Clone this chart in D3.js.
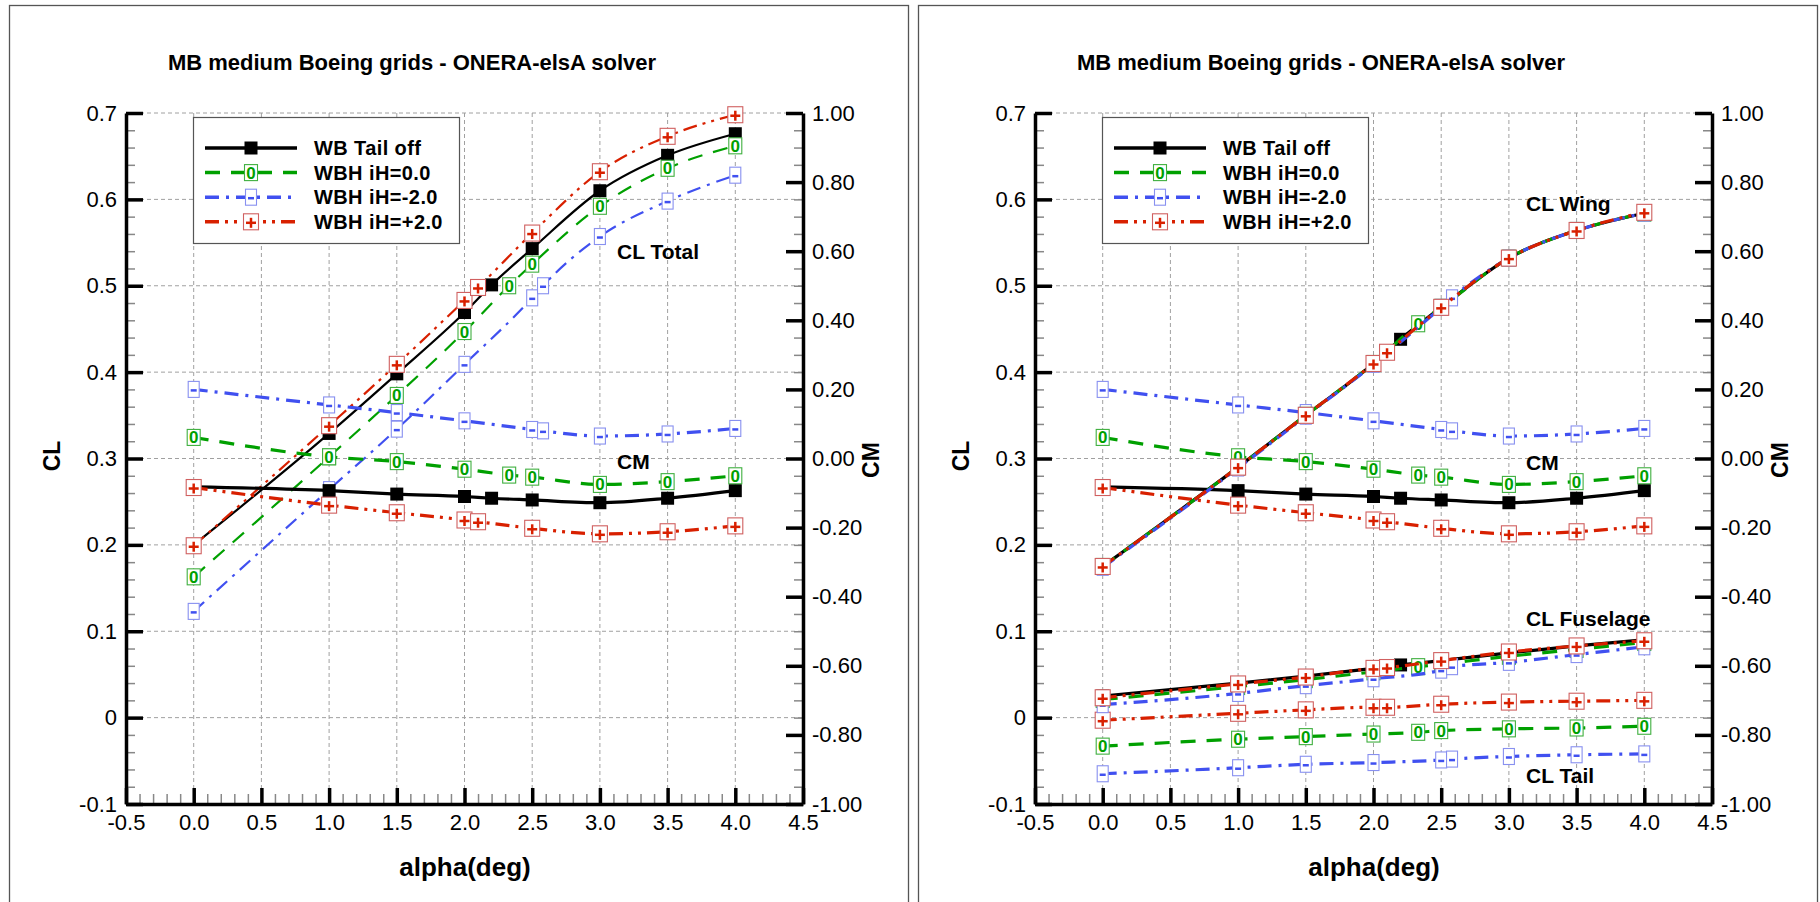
<!DOCTYPE html>
<html><head><meta charset="utf-8">
<script src="https://cdn.jsdelivr.net/npm/d3@7"></script>
<style>
body{margin:0;background:#fff;}
svg{display:block;font-family:"Liberation Sans",Arial,Helvetica,sans-serif;}
</style></head><body>
<svg id="chart" width="1820" height="902"></svg>
<script>
// ---------------- DATA ----------------
const TITLE = "MB medium Boeing grids - ONERA-elsA solver";
const X_LABEL = "alpha(deg)";
const Y_LABEL_LEFT = "CL";
const Y_LABEL_RIGHT = "CM";

const X_TICKS = [-0.5, 0.0, 0.5, 1.0, 1.5, 2.0, 2.5, 3.0, 3.5, 4.0, 4.5];
const X_TICK_LABELS = ["-0.5","0.0","0.5","1.0","1.5","2.0","2.5","3.0","3.5","4.0","4.5"];
const CL_TICKS = [-0.1, 0, 0.1, 0.2, 0.3, 0.4, 0.5, 0.6, 0.7];
const CL_TICK_LABELS = ["-0.1","0","0.1","0.2","0.3","0.4","0.5","0.6","0.7"];
const CM_TICKS = [-1, -0.8, -0.6, -0.4, -0.2, 0, 0.2, 0.4, 0.6, 0.8, 1];
const CM_TICK_LABELS = ["-1.00","-0.80","-0.60","-0.40","-0.20","0.00","0.20","0.40","0.60","0.80","1.00"];

const SERIES = ["WB Tail off", "WBH iH=0.0", "WBH iH=-2.0", "WBH iH=+2.0"];

const ALPHA_TAILOFF = [0.0, 1.0, 1.5, 2.0, 2.2, 2.5, 3.0, 3.5, 4.0];
const ALPHA_IH0     = [0.0, 1.0, 1.5, 2.0, 2.33, 2.5, 3.0, 3.5, 4.0];
const ALPHA_IHM2    = [0.0, 1.0, 1.5, 2.0, 2.5, 2.58, 3.0, 3.5, 4.0];
const ALPHA_IHP2    = [0.0, 1.0, 1.5, 2.0, 2.1, 2.5, 3.0, 3.5, 4.0];

// Left chart: total lift
const CL_TOTAL_TAILOFF = [0.200, 0.329, 0.398, 0.469, 0.501, 0.543, 0.610, 0.651, 0.676];
const CL_TOTAL_IH0     = [0.163, 0.302, 0.373, 0.447, 0.500, 0.525, 0.592, 0.636, 0.662];
const CL_TOTAL_IHM2    = [0.123, 0.264, 0.334, 0.409, 0.486, 0.500, 0.557, 0.598, 0.628];
const CL_TOTAL_IHP2    = [0.199, 0.338, 0.409, 0.483, 0.498, 0.561, 0.632, 0.673, 0.698];

// Pitching moment (both charts)
const CM_TAILOFF = [-0.082, -0.093, -0.103, -0.110, -0.115, -0.120, -0.128, -0.115, -0.093];
const CM_IH0     = [ 0.061,  0.005, -0.009, -0.031, -0.048, -0.054, -0.075, -0.067, -0.050];
const CM_IHM2    = [ 0.200,  0.155,  0.133,  0.109,  0.084,  0.080,  0.065,  0.071,  0.087];
const CM_IHP2    = [-0.084, -0.135, -0.157, -0.178, -0.183, -0.202, -0.218, -0.212, -0.195];

// Right chart: component lift
const CL_WING_TAILOFF = [0.175, 0.290, 0.350, 0.410, 0.438, 0.475, 0.532, 0.564, 0.584];
const CL_WING_IH0     = [0.175, 0.290, 0.350, 0.410, 0.456, 0.475, 0.532, 0.564, 0.584];
const CL_WING_IHM2    = [0.174, 0.289, 0.349, 0.409, 0.475, 0.486, 0.532, 0.564, 0.584];
const CL_WING_IHP2    = [0.175, 0.290, 0.350, 0.410, 0.423, 0.475, 0.532, 0.564, 0.585];

const CL_FUS_TAILOFF = [0.025, 0.040, 0.048, 0.057, 0.061, 0.066, 0.075, 0.083, 0.090];
const CL_FUS_IH0     = [0.021, 0.036, 0.044, 0.053, 0.059, 0.062, 0.071, 0.079, 0.087];
const CL_FUS_IHM2    = [0.015, 0.028, 0.037, 0.045, 0.055, 0.059, 0.064, 0.073, 0.082];
const CL_FUS_IHP2    = [0.023, 0.039, 0.047, 0.057, 0.058, 0.066, 0.076, 0.083, 0.089];

const CL_TAIL_IH0  = [-0.033, -0.025, -0.022, -0.019, -0.017, -0.015, -0.013, -0.012, -0.010];
const CL_TAIL_IHM2 = [-0.065, -0.058, -0.054, -0.052, -0.049, -0.048, -0.045, -0.043, -0.042];
const CL_TAIL_IHP2 = [-0.003,  0.005,  0.009,  0.012,  0.012,  0.0155, 0.018,  0.019,  0.020];

const LABELS_LEFT  = [["CL Total", "CL", 0.54], ["CM", "CL", 0.297]];
const LABELS_RIGHT = [["CL Wing", "CL", 0.595], ["CM", "CL", 0.295], ["CL Fuselage", "CL", 0.115], ["CL Tail", "CL", -0.067]];

// ---------------- STYLE ----------------
const STYLE = {
  "WB Tail off": {color:"#000000", outline:"#000000", dash:null, mark:"fill"},
  "WBH iH=0.0":  {color:"#00a000", outline:"#40b040", dash:"15,11", mark:"0"},
  "WBH iH=-2.0": {color:"#4050f0", outline:"#8890f0", dash:"14,7,3,7", mark:"-"},
  "WBH iH=+2.0": {color:"#d82000", outline:"#d06060", dash:"14,6,3,6,3,6", mark:"+"}
};
const ALPHAS = [ALPHA_TAILOFF, ALPHA_IH0, ALPHA_IHM2, ALPHA_IHP2];

const svg = d3.select("#chart");
const FONT_TICK = 22;

function drawMarker(g, name, x, y) {
  const s = STYLE[name];
  if (s.mark === "fill") {
    g.append("rect").attr("x", x-6.5).attr("y", y-6.5).attr("width", 13).attr("height", 13).attr("fill", "#000");
    return;
  }
  const w = s.mark === "0" ? 13 : (s.mark === "-" ? 11 : 15);
  g.append("rect").attr("x", x-w/2).attr("y", y-8).attr("width", w).attr("height", 16)
    .attr("fill", "#fff").attr("stroke", s.outline).attr("stroke-width", 1.1);
  if (s.mark === "0") {
    g.append("text").attr("x", x).attr("y", y+6).attr("text-anchor","middle")
      .attr("font-size", 17).attr("font-weight","bold").attr("fill", s.color).text("0");
  } else if (s.mark === "-") {
    g.append("line").attr("x1", x-3).attr("x2", x+3).attr("y1", y+1).attr("y2", y+1)
      .attr("stroke", s.color).attr("stroke-width", 2.5);
  } else {
    g.append("line").attr("x1", x-5).attr("x2", x+5).attr("y1", y+1).attr("y2", y+1)
      .attr("stroke", s.color).attr("stroke-width", 2.5);
    g.append("line").attr("x1", x).attr("x2", x).attr("y1", y-4).attr("y2", y+6)
      .attr("stroke", s.color).attr("stroke-width", 2.5);
  }
}

function drawPanel(ox, groups, labels) {
  const g = svg.append("g").attr("transform", `translate(${ox},0)`);
  g.append("rect").attr("x", 9.5).attr("y", 5.5).attr("width", 899).attr("height", 940)
    .attr("fill", "none").attr("stroke", "#555").attr("stroke-width", 1.3);

  const x = d3.scaleLinear().domain([-0.5, 4.5]).range([126, 803]);
  const yCL = d3.scaleLinear().domain([-0.1, 0.7]).range([804, 113]);
  const yCM = d3.scaleLinear().domain([-1, 1]).range([804, 113]);

  // grid
  const grid = g.append("g").attr("stroke", "#a0a0a0").attr("stroke-width", 1).attr("stroke-dasharray", "4,3");
  X_TICKS.slice(1, -1).forEach(v => grid.append("line").attr("x1", x(v)).attr("x2", x(v)).attr("y1", 113).attr("y2", 804));
  CL_TICKS.slice(1).forEach(v => grid.append("line").attr("x1", 126).attr("x2", 803).attr("y1", yCL(v)).attr("y2", yCL(v)));

  // title
  g.append("text").attr("x", 412).attr("y", 70).attr("text-anchor", "middle")
    .attr("font-size", 22).attr("font-weight", "bold").text(TITLE);

  // minor ticks
  const minorStyle = sel => { sel.select(".domain").remove(); sel.selectAll("line").attr("stroke", "#888").attr("stroke-width", 1.5); };
  g.append("g").attr("transform", "translate(126,0)")
    .call(d3.axisLeft(yCL).tickValues(d3.range(-0.1, 0.7001, 0.02)).tickSize(-9).tickFormat("")).call(minorStyle);
  g.append("g").attr("transform", "translate(803,0)")
    .call(d3.axisRight(yCM).tickValues(d3.range(-1, 1.0001, 0.05)).tickSize(-9).tickFormat("")).call(minorStyle);
  g.append("g").attr("transform", "translate(0,804)")
    .call(d3.axisBottom(x).tickValues(d3.range(-0.5, 4.5001, 0.1)).tickSize(-10).tickFormat("")).call(minorStyle);

  const majorStyle = sel => {
    sel.select(".domain").attr("stroke", "#000").attr("stroke-width", 3.5);
    sel.selectAll(".tick line").attr("stroke", "#000").attr("stroke-width", 3.5);
    sel.selectAll(".tick text").attr("font-size", FONT_TICK).attr("font-family", "Liberation Sans, Arial, sans-serif").attr("fill", "#000");
  };
  g.append("g").attr("transform", "translate(126,0)")
    .call(d3.axisLeft(yCL).tickValues(CL_TICKS).tickFormat((d, i) => CL_TICK_LABELS[i])
      .tickSizeInner(-17).tickSizeOuter(0).tickPadding(9)).call(majorStyle);
  g.append("g").attr("transform", "translate(803,0)")
    .call(d3.axisRight(yCM).tickValues(CM_TICKS).tickFormat((d, i) => CM_TICK_LABELS[i])
      .tickSizeInner(-17).tickSizeOuter(0).tickPadding(9)).call(majorStyle);
  g.append("g").attr("transform", "translate(0,804)")
    .call(d3.axisBottom(x).tickValues(X_TICKS).tickFormat((d, i) => X_TICK_LABELS[i])
      .tickSizeInner(-16).tickSizeOuter(0).tickPadding(10)).call(majorStyle);

  // axis titles
  g.append("text").attr("transform", "translate(60,456) rotate(-90)").attr("text-anchor", "middle")
    .attr("font-size", 23).attr("font-weight", "bold").text(Y_LABEL_LEFT);
  g.append("text").attr("transform", "translate(879,460) rotate(-90)").attr("text-anchor", "middle")
    .attr("font-size", 23).attr("font-weight", "bold").text(Y_LABEL_RIGHT);
  g.append("text").attr("x", 465).attr("y", 876).attr("text-anchor", "middle")
    .attr("font-size", 26).attr("font-weight", "bold").text(X_LABEL);

  // curves
  const plot = g.append("g");
  groups.forEach(grp => {
    const ys = grp.axis === "CM" ? yCM : yCL;
    grp.series.forEach(sr => {
      const st = STYLE[sr.name];
      const pts = sr.alpha.map((a, i) => [x(a), ys(sr.values[i])]);
      const line = d3.line().curve(d3.curveMonotoneX);
      plot.append("path").attr("d", line(pts)).attr("fill", "none").attr("stroke", st.color)
        .attr("stroke-width", grp.width).attr("stroke-dasharray", st.dash);
      const mk = plot.append("g");
      pts.forEach(p => drawMarker(mk, sr.name, p[0], p[1]));
    });
  });

  // annotations
  labels.forEach(l => {
    g.append("text").attr("x", 617).attr("y", yCL(l[2]) + 7.5).attr("font-size", 21).attr("font-weight", "bold").text(l[0]);
  });

  // legend
  const lg = g.append("g");
  lg.append("rect").attr("x", 193.5).attr("y", 117.5).attr("width", 266).attr("height", 126)
    .attr("fill", "#fff").attr("stroke", "#555").attr("stroke-width", 1.2);
  SERIES.forEach((name, i) => {
    const yy = 148 + i * 24.6;
    const st = STYLE[name];
    lg.append("line").attr("x1", 205).attr("x2", 297).attr("y1", yy).attr("y2", yy)
      .attr("stroke", st.color).attr("stroke-width", 3.5).attr("stroke-dasharray", st.dash);
    drawMarker(lg, name, 251, yy);
    lg.append("text").attr("x", 314).attr("y", yy + 7).attr("font-size", 20).attr("font-weight", "bold")
      .attr("letter-spacing", 0.4).text(name);
  });
}

const mkSeries = (vals) => vals.map((v, i) => v ? {name: SERIES[i], alpha: ALPHAS[i], values: v} : null).filter(d => d);

drawPanel(0, [
  {axis: "CL", width: 2.2, series: mkSeries([CL_TOTAL_TAILOFF, CL_TOTAL_IH0, CL_TOTAL_IHM2, CL_TOTAL_IHP2])},
  {axis: "CM", width: 3.2, series: mkSeries([CM_TAILOFF, CM_IH0, CM_IHM2, CM_IHP2])}
], LABELS_LEFT);

drawPanel(909, [
  {axis: "CM", width: 3.2, series: mkSeries([CM_TAILOFF, CM_IH0, CM_IHM2, CM_IHP2])},
  {axis: "CL", width: 3.2, series: mkSeries([null, CL_TAIL_IH0, CL_TAIL_IHM2, CL_TAIL_IHP2])},
  {axis: "CL", width: 3.2, series: mkSeries([CL_FUS_TAILOFF, CL_FUS_IH0, CL_FUS_IHM2, CL_FUS_IHP2])},
  {axis: "CL", width: 3.2, series: mkSeries([CL_WING_TAILOFF, CL_WING_IH0, CL_WING_IHM2, CL_WING_IHP2])}
], LABELS_RIGHT);
</script></body></html>
